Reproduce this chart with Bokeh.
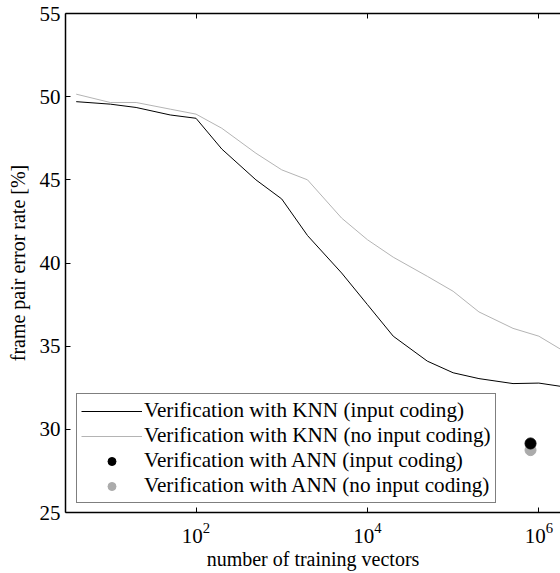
from bokeh.plotting import figure
from bokeh.models import LogAxis, FixedTicker, Range1d, Legend, LegendItem, ColumnDataSource
from bokeh.embed import file_html
from bokeh.resources import INLINE

# ---- data ----
train_vectors = [4, 10, 20, 50, 100, 200, 500, 1000, 2000, 5000, 10000, 20000,
                 50000, 100000, 200000, 500000, 1000000, 2000000]
knn_input_coding = [49.7, 49.55, 49.35, 48.9, 48.7, 46.85, 45.0, 43.85, 41.65, 39.4,
                    37.5, 35.6, 34.1, 33.4, 33.05, 32.75, 32.78, 32.55]
knn_no_input_coding = [50.15, 49.65, 49.65, 49.25, 48.95, 48.1, 46.6, 45.6, 45.0, 42.7,
                       41.4, 40.35, 39.2, 38.3, 37.06, 36.07, 35.6, 34.67]
ann_x = [800000]
ann_input_coding = [29.15]
ann_no_input_coding = [28.75]

x_ticks = [1e2, 1e4, 1e6]
y_ticks = [25, 30, 35, 40, 45, 50, 55]
x_limits = (3, 1.79e6)
y_limits = (25, 55)

FONT = "Liberation Serif"
GRAY_LINE = "#b4b4b4"
GRAY_DOT = "#ababab"

p = figure(width=560, height=573, x_axis_type="log",
           x_range=Range1d(*x_limits), y_range=Range1d(*y_limits),
           output_backend="svg", toolbar_location=None,
           min_border_left=65, min_border_right=0, min_border_top=13, min_border_bottom=61)
p.outline_line_color = None
p.grid.visible = False
p.background_fill_color = "white"
p.border_fill_color = "white"

for ax in (p.xaxis[0], p.yaxis[0]):
    ax.axis_line_color = "black"
    ax.axis_line_width = 1.5
    ax.major_tick_line_color = "black"
    ax.major_tick_in = 5
    ax.major_tick_out = 0
    ax.minor_tick_line_color = None
    ax.major_label_text_font = FONT
    ax.major_label_text_font_size = "21px"
    ax.major_label_text_color = "black"
    ax.axis_label_text_font = FONT
    ax.axis_label_text_font_size = "20px"
    ax.axis_label_text_font_style = "normal"
    ax.axis_label_text_color = "black"

p.xaxis.ticker = FixedTicker(ticks=x_ticks, minor_ticks=[])
p.yaxis.ticker = FixedTicker(ticks=y_ticks, minor_ticks=[])
p.xaxis.axis_label = "number of training vectors"
p.yaxis.axis_label = "frame pair error rate [%]"
p.xaxis.major_label_standoff = 10
p.xaxis.axis_label_standoff = 2
p.yaxis.major_label_standoff = 5
p.yaxis.axis_label_standoff = 8

top = LogAxis(ticker=FixedTicker(ticks=x_ticks, minor_ticks=[]),
              major_label_text_font_size="1px", major_label_text_alpha=0,
              major_label_standoff=0,
              axis_line_color="black", axis_line_width=1.5,
              major_tick_in=5, major_tick_out=0, minor_tick_line_color=None)
p.add_layout(top, "above")

src = ColumnDataSource(dict(x=train_vectors, a=knn_input_coding, b=knn_no_input_coding))
r1 = p.line("x", "a", source=src, line_color="black", line_width=1)
r2 = p.line("x", "b", source=src, line_color=GRAY_LINE, line_width=1)
r4 = p.scatter(ann_x, ann_no_input_coding, size=11, fill_color=GRAY_DOT, line_color=GRAY_DOT)
r3 = p.scatter(ann_x, ann_input_coding, size=11, fill_color="black", line_color="black")

legend = Legend(items=[
    LegendItem(label="Verification with KNN (input coding)", renderers=[r1]),
    LegendItem(label="Verification with KNN (no input coding)", renderers=[r2]),
    LegendItem(label="Verification with ANN (input coding)", renderers=[r3]),
    LegendItem(label="Verification with ANN (no input coding)", renderers=[r4]),
])
legend.location = (11, 9)
legend.margin = 0
legend.padding = 4
legend.spacing = 0
legend.glyph_width = 61
legend.glyph_height = 20
legend.label_height = 20
legend.label_standoff = 2
legend.label_text_font = FONT
legend.label_text_font_size = "21.2px"
legend.label_text_color = "black"
legend.border_line_color = "black"
legend.border_line_width = 1.2
legend.background_fill_alpha = 1
p.add_layout(legend)

open("out.html", "w").write(file_html(p, INLINE))
